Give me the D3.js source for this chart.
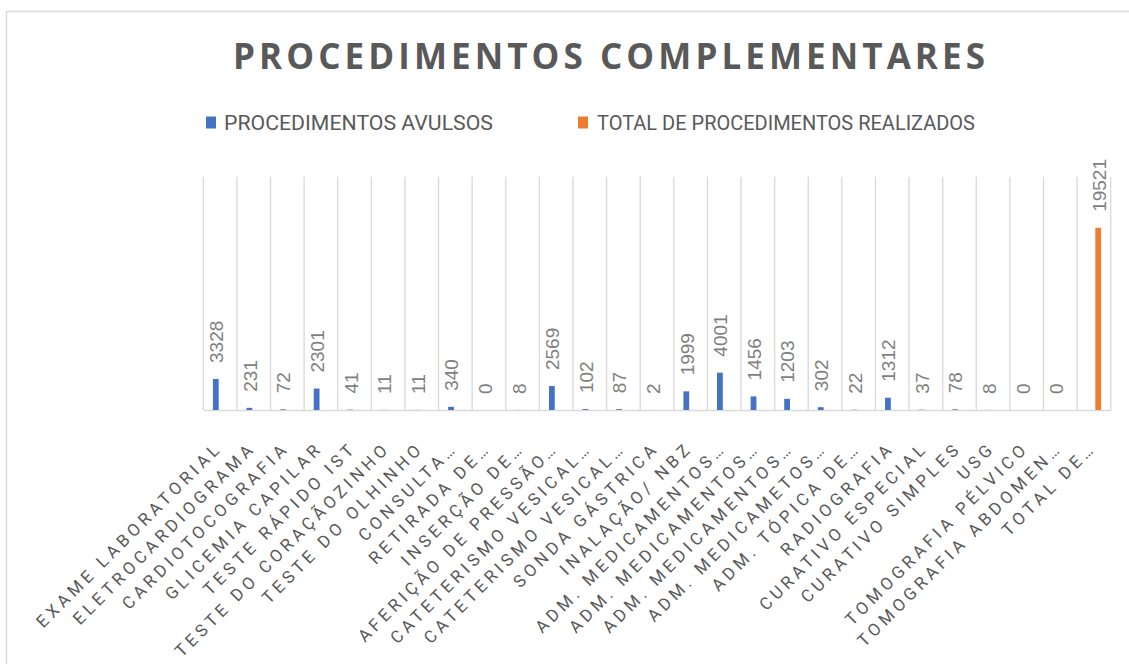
<!DOCTYPE html>
<html>
<head>
<meta charset="utf-8">
<script src="https://cdn.jsdelivr.net/npm/d3@7"></script>
<style>
    body { margin: 0; background: #ffffff; }
    #chart { width: 1129px; height: 664px; }
</style>
</head>
<body>
<div id="chart"></div>
<script>

// categories as they show on the axis (excel truncates some of them)
const categories = [
    "EXAME LABORATORIAL", "ELETROCARDIOGRAMA", "CARDIOTOCOGRAFIA", "GLICEMIA CAPILAR",
    "TESTE RÁPIDO IST", "TESTE DO CORAÇÃOZINHO", "TESTE DO OLHINHO", "CONSULTA…",
    "RETIRADA DE…", "INSERÇÃO DE…", "AFERIÇÃO DE PRESSÃO…", "CATETERISMO VESICAL…",
    "CATETERISMO VESICAL…", "SONDA GÁSTRICA", "INALAÇÃO/ NBZ", "ADM. MEDICAMENTOS…",
    "ADM. MEDICAMENTOS…", "ADM. MEDICAMENTOS…", "ADM. MEDICAMETOS…", "ADM. TÓPICA DE…",
    "RADIOGRAFIA", "CURATIVO ESPECIAL", "CURATIVO SIMPLES", "USG",
    "TOMOGRAFIA PÉLVICO", "TOMOGRAFIA ABDOMEN…", "TOTAL DE…"
];

const avulsos = [3328, 231, 72, 2301, 41, 11, 11, 340, 0, 8, 2569, 102, 87, 2,
    1999, 4001, 1456, 1203, 302, 22, 1312, 37, 78, 8, 0, 0, null];

const totalRealizados = [null, null, null, null, null, null, null, null, null, null,
    null, null, null, null, null, null, null, null, null, null, null, null, null,
    null, null, null, 19521];

const seriesNames = ["PROCEDIMENTOS AVULSOS", "TOTAL DE PROCEDIMENTOS REALIZADOS"];
const seriesColors = ["#4472C4", "#ED7D31"];

const yTicks = [0, 25000];


class BarVis {

    constructor(parentElement) {
        this.parentElement = parentElement;
        this.initVis();
    }

    initVis() {
        let vis = this;

        vis.width = 1129;
        vis.height = 664;
        vis.plot = {left: 203.3, right: 1110.7, top: 176.7, bottom: 410};

        vis.svg = d3.select("#" + vis.parentElement).append("svg")
            .attr("width", vis.width)
            .attr("height", vis.height);

        // chart area border (cut off at right and bottom in the screenshot)
        vis.svg.append("rect")
            .attr("x", 6.5).attr("y", 11.5)
            .attr("width", vis.width + 20).attr("height", vis.height + 20)
            .attr("fill", "#ffffff")
            .attr("stroke", "#d9d9d9")
            .attr("stroke-width", 1.5);

        // title
        vis.svg.append("text")
            .attr("x", 609)
            .attr("y", 69)
            .attr("text-anchor", "middle")
            .attr("textLength", 752)
            .attr("lengthAdjust", "spacing")
            .style("font-family", "'Open Sans', sans-serif")
            .style("font-weight", 700)
            .style("font-size", "35px")
            .style("fill", "#595959")
            .text("PROCEDIMENTOS COMPLEMENTARES");

        // legend
        let legendPos = [{key: 206, text: 224, len: 269}, {key: 578, text: 597, len: 378}];
        seriesNames.forEach((name, i) => {
            vis.svg.append("rect")
                .attr("x", legendPos[i].key).attr("y", 116.5)
                .attr("width", 10).attr("height", 12)
                .attr("fill", seriesColors[i]);
            vis.svg.append("text")
                .attr("x", legendPos[i].text)
                .attr("y", 129.5)
                .attr("textLength", legendPos[i].len)
                .attr("lengthAdjust", "spacingAndGlyphs")
                .style("font-family", "Roboto, sans-serif")
                .style("font-size", "21px")
                .style("fill", "#595959")
                .text(name);
        });

        // scales
        vis.x = d3.scaleBand()
            .domain(d3.range(categories.length))
            .range([vis.plot.left, vis.plot.right])
            .paddingInner(0).paddingOuter(0);

        vis.xSeries = d3.scaleBand()
            .domain([0, 1])
            .range([-7.2, 7.2])
            .paddingInner(0.33);

        vis.y = d3.scaleLinear()
            .domain(d3.extent(yTicks))
            .range([vis.plot.bottom, vis.plot.top]);

        // vertical gridlines at category boundaries
        vis.svg.append("g")
            .selectAll("line")
            .data(d3.range(categories.length + 1))
            .enter().append("line")
            .attr("x1", d => vis.plot.left + d * vis.x.step())
            .attr("x2", d => vis.plot.left + d * vis.x.step())
            .attr("y1", vis.plot.top)
            .attr("y2", vis.plot.bottom)
            .attr("stroke", "#d9d9d9")
            .attr("stroke-width", 1.3);

        // x axis with rotated labels
        vis.xAxis = d3.axisBottom(vis.x)
            .tickSize(0)
            .tickPadding(0)
            .tickFormat(i => categories[i]);

        vis.xAxisG = vis.svg.append("g")
            .attr("transform", `translate(0, ${vis.plot.bottom})`)
            .call(vis.xAxis);

        vis.xAxisG.select(".domain")
            .attr("stroke", "#d9d9d9")
            .attr("stroke-width", 1.5);

        vis.xAxisG.selectAll(".tick text")
            .attr("x", 0).attr("y", 0).attr("dy", 0)
            .attr("text-anchor", "end")
            .attr("transform", "translate(3, 39) rotate(-45)")
            .style("font-family", "Roboto, sans-serif")
            .style("font-size", "17px")
            .style("letter-spacing", "4.1px")
            .style("fill", "#595959");

        vis.wrangleData();
    }

    wrangleData() {
        let vis = this;

        vis.displayData = [];
        [avulsos, totalRealizados].forEach((values, s) => {
            values.forEach((v, i) => {
                if (v !== null) vis.displayData.push({series: s, index: i, value: v});
            });
        });

        vis.updateVis();
    }

    updateVis() {
        let vis = this;

        let barX = d => vis.x(d.index) + vis.x.bandwidth() / 2 + vis.xSeries(d.series);

        vis.svg.append("g").selectAll(".bar")
            .data(vis.displayData)
            .enter().append("rect")
            .attr("class", "bar")
            .attr("x", barX)
            .attr("width", vis.xSeries.bandwidth())
            .attr("y", d => vis.y(d.value))
            .attr("height", d => vis.y(0) - vis.y(d.value))
            .attr("fill", d => seriesColors[d.series]);

        // value labels, rotated like in excel
        vis.svg.append("g").selectAll(".value-label")
            .data(vis.displayData)
            .enter().append("text")
            .attr("class", "value-label")
            .attr("transform", d => `translate(${barX(d) + vis.xSeries.bandwidth() / 2 + 0.5}, ${vis.y(d.value) - 16}) rotate(-90)`)
            .attr("dy", "0.36em")
            .style("font-family", "'Liberation Sans', Arial, sans-serif")
            .style("font-size", "19px")
            .style("fill", "#7f7f7f")
            .text(d => d.value);
    }
}

new BarVis("chart");

</script>
</body>
</html>
